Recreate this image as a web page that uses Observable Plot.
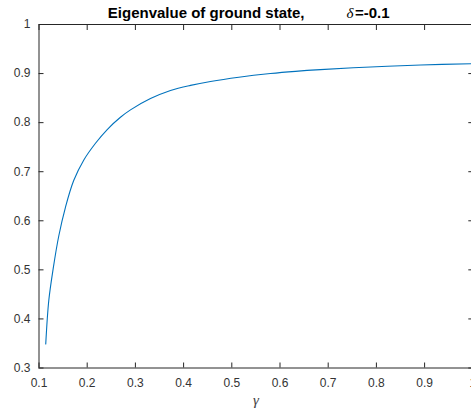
<!DOCTYPE html>
<html>
<head>
<meta charset="utf-8">
<script src="https://cdn.jsdelivr.net/npm/d3@7"></script>
<script src="https://cdn.jsdelivr.net/npm/@observablehq/plot@0.6"></script>
<style>
  html, body { margin: 0; padding: 0; background: #fff; overflow: hidden; }
</style>
</head>
<body>
<div id="chart"></div>
<script>
const titleText = "Eigenvalue of ground state,";
const titleSymbol = "δ";
const titleValue = "=-0.1";
const xLabel = "γ";
const xTicks = [0.1, 0.2, 0.3, 0.4, 0.5, 0.6, 0.7, 0.8, 0.9, 1];
const yTicks = [0.3, 0.4, 0.5, 0.6, 0.7, 0.8, 0.9, 1];

const gamma = [0.114, 0.1203, 0.1295, 0.141, 0.155, 0.172, 0.193, 0.2172, 0.2415, 0.269, 0.2898, 0.3313, 0.3728, 0.4143, 0.4558, 0.5145, 0.580, 0.632, 0.684, 0.788, 0.892, 1.0];
const eigen = [0.349, 0.4375, 0.503, 0.569, 0.628, 0.682, 0.724, 0.758, 0.786, 0.811, 0.826, 0.849, 0.8655, 0.876, 0.884, 0.8926, 0.900, 0.9045, 0.908, 0.9135, 0.9175, 0.920];

const data = gamma.map((g, i) => ({g, v: eigen[i]}));
const ink = "#262626";
const fmt = d => String(d);

const chart = Plot.plot({
  width: 471,
  height: 417,
  marginLeft: 38.5,
  marginTop: 24,
  marginBottom: 49.5,
  marginRight: -1.3,
  style: {fontFamily: "'Liberation Sans', Arial, Helvetica, sans-serif", fontSize: "12px", color: ink, background: "#fff"},
  x: {domain: [0.1, 1]},
  y: {domain: [0.3, 1]},
  marks: [
    Plot.line(data, {x: "g", y: "v", stroke: "#0072BD", strokeWidth: 1.1, curve: "catmull-rom"}),
    Plot.frame({stroke: ink, strokeWidth: 1}),
    Plot.axisX(xTicks, {anchor: "bottom", tickSize: -5, tickPadding: 15.7, tickFormat: fmt, label: null, stroke: ink, fill: "#333", fontSize: 12}),
    Plot.axisX(xTicks, {anchor: "top", tickSize: -5, tickFormat: () => "", label: null, stroke: ink}),
    Plot.axisY(yTicks, {anchor: "left", tickSize: -5, tickPadding: 13.5, tickFormat: fmt, label: null, stroke: ink, fill: "#333", fontSize: 12}),
    Plot.axisY(yTicks, {anchor: "right", tickSize: -5, tickFormat: () => "", label: null, stroke: ink}),
    Plot.text([xLabel], {frameAnchor: "bottom", lineAnchor: "bottom", dy: 36.5, fontFamily: "'Liberation Serif', serif", fontStyle: "italic", fontSize: 15, fill: "#444"}),
    Plot.text([titleText], {frameAnchor: "top", textAnchor: "start", lineAnchor: "bottom", dx: -148.1, dy: -6.7, fontWeight: "bold", fontSize: 15, fill: "#000"}),
    Plot.text([titleSymbol], {frameAnchor: "top", textAnchor: "end", lineAnchor: "bottom", dx: 97.5, dy: -6.7, fontFamily: "'Liberation Serif', serif", fontStyle: "italic", fontSize: 15, fill: "#000"}),
    Plot.text([titleValue], {frameAnchor: "top", textAnchor: "end", lineAnchor: "bottom", dx: 133.6, dy: -6.7, fontWeight: "bold", fontSize: 15, fill: "#000"})
  ]
});
document.getElementById("chart").appendChild(chart);
</script>
</body>
</html>
